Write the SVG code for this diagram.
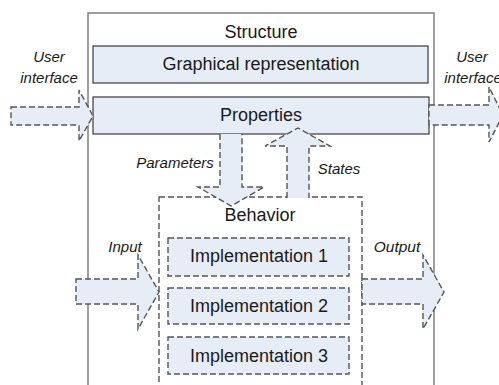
<svg xmlns="http://www.w3.org/2000/svg" width="499" height="385" viewBox="0 0 499 385">
<style>
.lbl{font-family:"Liberation Sans",Arial,sans-serif;font-size:18px;fill:#1a1a1a;text-anchor:middle}
.it{font-family:"Liberation Sans",Arial,sans-serif;font-size:15px;font-style:italic;fill:#1a1a1a;text-anchor:middle}
.solid{fill:#e7edf7;stroke:#3a3a3a;stroke-width:1.2}
.dash{fill:#e7edf7;stroke:#555;stroke-width:1.4;stroke-dasharray:6 3}
.dashn{fill:none;stroke:#555;stroke-width:1.4;stroke-dasharray:6 3}
</style>
<rect width="499" height="385" fill="#fff"/>
<g id="structure">
<rect x="88" y="13" width="346" height="400" fill="#fff" stroke="#7f7f7f" stroke-width="1.5"/>
<text class="lbl" x="261" y="38">Structure</text>
</g>
<g id="graphical">
<rect class="solid" x="93" y="46" width="335" height="37"/>
<text class="lbl" x="261" y="70">Graphical representation</text>
</g>
<g id="properties">
<rect class="solid" x="93" y="97" width="336" height="37"/>
<text class="lbl" x="261" y="121">Properties</text>
</g>
<g id="behavior">
<rect class="dashn" x="159" y="197" width="203" height="200"/>
<text class="lbl" x="260" y="221">Behavior</text>
</g>
<g id="impl1">
<rect class="dash" x="168" y="238" width="181" height="38"/>
<text class="lbl" x="259" y="262">Implementation 1</text>
</g>
<g id="impl2">
<rect class="dash" x="168" y="288" width="181" height="36"/>
<text class="lbl" x="259" y="312">Implementation 2</text>
</g>
<g id="impl3">
<rect class="dash" x="168" y="337" width="181" height="37"/>
<text class="lbl" x="259" y="362">Implementation 3</text>
</g>
<g id="connectors">
<path class="dash" d="M11,107 H79 V90 L93,116 L79,141 V125 H11 Z"/>
<path class="dash" d="M429,105 H489 V87 L503,115 L489,142 V125 H429 Z"/>
<path class="dash" d="M220,134 V187 H198 L231,206 L264,187 H242 V134"/>
<path class="dash" d="M287,198 V146 H265 L298,128 L330,146 H309 V198"/>
<path class="dash" d="M76,279 H138 V255 L159,292 L138,329 V304 H76 Z"/>
<path class="dash" d="M362,279 H423 V255 L444,292 L423,329 V304 H362 Z"/>
</g>
<g id="labels">
<text class="it" x="49" y="62">User</text>
<text class="it" x="49" y="83">interface</text>
<text class="it" x="472" y="62">User</text>
<text class="it" x="473" y="83">interface</text>
<text class="it" x="175" y="168">Parameters</text>
<text class="it" x="339" y="174">States</text>
<text class="it" x="125" y="252">Input</text>
<text class="it" x="397" y="252" style="font-size:15.5px">Output</text>
</g>
</svg>
